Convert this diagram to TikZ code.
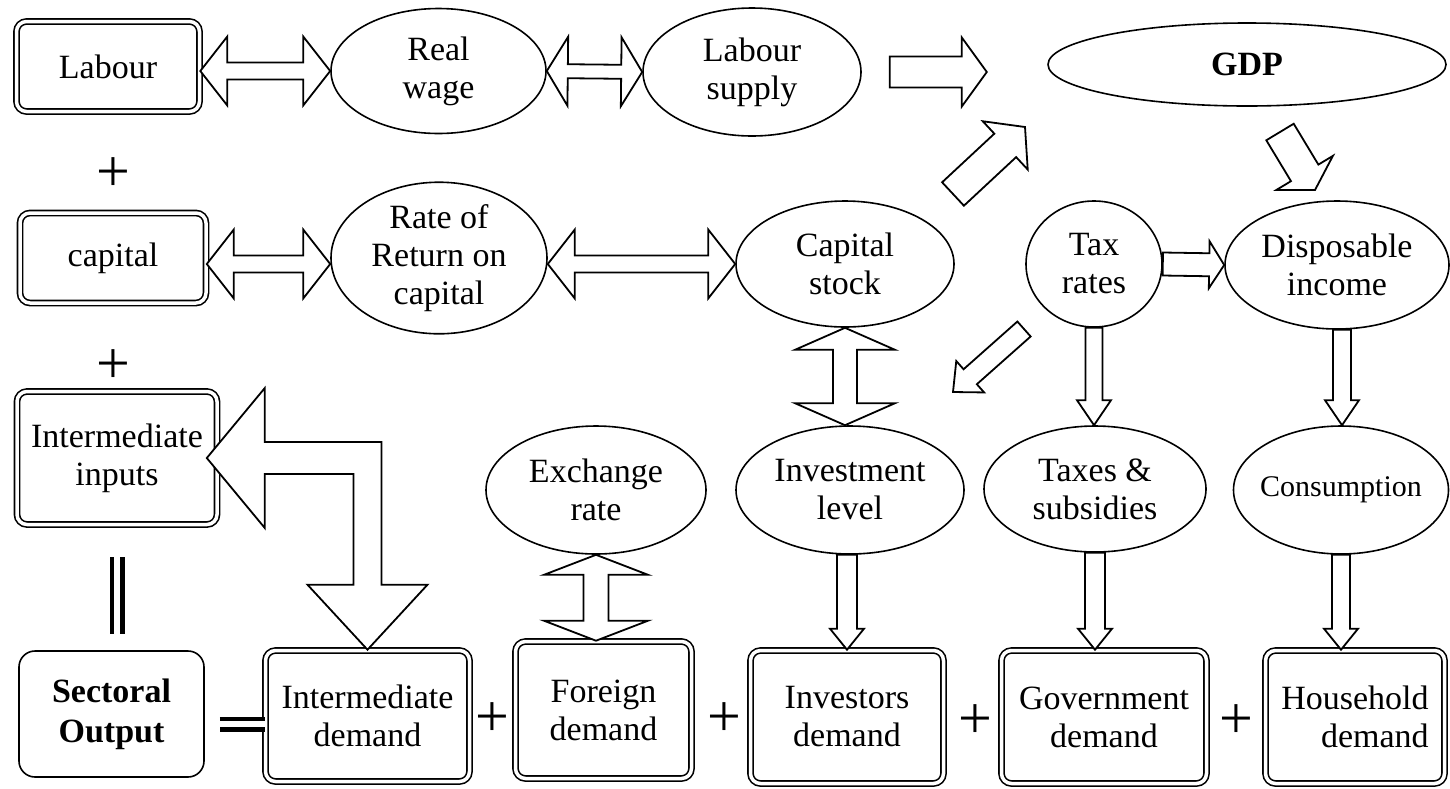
\documentclass[tikz,border=0pt]{standalone}
\usepackage{fontspec}
\setmainfont{Liberation Serif}
\usetikzlibrary{calc, shapes.geometric}

% block arrow: from, to, shaft half width, head half width, head length
\newcommand{\onearrow}[5]{%
  \path ($(#2)!#5!(#1)$) coordinate (hb);
  \draw[blockarrow] ($(#1)!#3!90:(#2)$) -- ($(hb)!#3!90:(#2)$) -- ($(hb)!#4!90:(#2)$)
    -- (#2) -- ($(hb)!#4!-90:(#2)$) -- ($(hb)!#3!-90:(#2)$) -- ($(#1)!#3!-90:(#2)$) -- cycle;
}
% block arrow with two heads
\newcommand{\twoarrow}[5]{%
  \path ($(#1)!#5!(#2)$) coordinate (ha) ($(#2)!#5!(#1)$) coordinate (hb);
  \draw[blockarrow] (#1) -- ($(ha)!#4!90:(#2)$) -- ($(ha)!#3!90:(#2)$) -- ($(hb)!#3!90:(#2)$)
    -- ($(hb)!#4!90:(#2)$) -- (#2) -- ($(hb)!#4!-90:(#2)$) -- ($(hb)!#3!-90:(#2)$)
    -- ($(ha)!#3!-90:(#2)$) -- ($(ha)!#4!-90:(#2)$) -- cycle;
}

\begin{document}
\begin{tikzpicture}[x=1pt, y=-1pt,
    box/.style={draw, double, double distance=3.5pt, line width=1.6pt, rounded corners=10pt,
      align=center, inner sep=0pt, font=\fontsize{34}{38}\selectfont},
    outbox/.style={draw, line width=1.6pt, rounded corners=16pt, align=center, inner sep=0pt,
      font=\fontsize{34}{40}\selectfont\bfseries},
    bubble/.style={ellipse, draw, line width=1.6pt, align=center, inner sep=0pt,
      font=\fontsize{34}{38}\selectfont},
    blockarrow/.style={draw, fill=white, line width=1.8pt},
    eqline/.style={double, double distance=6pt, line width=4.5pt},
    plus/.style={inner sep=0pt, font=\fontsize{60}{60}\selectfont}]
  \useasboundingbox (0,0) rectangle (1450,788);

  % factors
  \node[box, minimum width=183pt, minimum height=90pt] (lab) at (108,66.5) {Labour};
  \node[box, minimum width=186pt, minimum height=90pt] (cap) at (113,258) {capital};
  \node[box, minimum width=200pt, minimum height=133pt] (inp) at (117,458) {Intermediate\\inputs};
  \node[outbox, minimum width=185pt, minimum height=126pt] (out) at (111.5,714) {Sectoral\\Output};

  % demand boxes
  \node[box, minimum width=204pt, minimum height=131pt] (idem) at (367.5,716) {Intermediate\\demand};
  \node[box, minimum width=176pt, minimum height=137pt] (fdem) at (603.5,710) {Foreign\\demand};
  \node[box, minimum width=193pt, minimum height=133pt] (invd) at (847,717) {Investors\\demand};
  \node[box, minimum width=205pt, minimum height=133pt] (gdem) at (1104,717) {Government\\demand};
  \node[box, minimum width=179pt, minimum height=133pt, align=right] (hdem) at (1355,717) {Household\\demand};

  % ellipses
  \node[bubble, minimum width=215pt, minimum height=125pt] (rw) at (438.5,71) {Real\\wage};
  \node[bubble, minimum width=218pt, minimum height=128pt] (ls) at (752,72) {Labour\\supply};
  \node[bubble, minimum width=398pt, minimum height=83pt, font=\fontsize{34}{38}\selectfont\bfseries] (gdp) at (1247,64.5) {GDP};
  \node[bubble, minimum width=216pt, minimum height=151pt] (ror) at (439,258) {Rate of\\Return on\\capital};
  \node[bubble, minimum width=218pt, minimum height=126pt] (cs) at (845,264) {Capital\\stock};
  \node[bubble, minimum width=136pt, minimum height=126pt] (tax) at (1094,264) {Tax\\rates};
  \node[bubble, minimum width=224pt, minimum height=128pt] (di) at (1337,265) {Disposable\\income};
  \node[bubble, minimum width=220pt, minimum height=128pt] (er) at (596,490) {Exchange\\rate};
  \node[bubble, minimum width=228pt, minimum height=128pt] (il) at (850,490) {Investment\\level};
  \node[bubble, minimum width=222pt, minimum height=126pt] (ts) at (1095,489) {Taxes \&\\subsidies};
  \node[bubble, minimum width=215pt, minimum height=128pt, inner xsep=-10pt,
    font=\fontsize{30}{34}\selectfont] (con) at (1341,490) {Consumption};

  % plus signs
  \node[plus] (p1) at (113,175) {+};
  \node[plus] (p2) at (113,367) {+};
  \node[plus] (p3) at (492,720) {+};
  \node[plus] (p4) at (724,720) {+};
  \node[plus] (p5) at (975,722) {+};
  \node[plus] (p6) at (1236,722) {+};

  % equal signs
  \draw[eqline, shorten <=32pt, shorten >=16pt] (inp.south) -- (inp.south |- out.north);
  \coordinate (e1) at ([yshift=-10pt]out.east);
  \draw[eqline, shorten <=15pt] (e1) -- (e1 -| idem.west);

  % top row arrows
  \coordinate (lw) at (lab.east |- rw.west);
  \twoarrow{lw}{rw.west}{8.5pt}{34.5pt}{27pt}
  \twoarrow{rw.east}{ls.west}{7pt}{34.5pt}{21pt}
  \coordinate (g1) at ([xshift=28pt]ls.east);
  \coordinate (g2) at ([xshift=125pt]ls.east);
  \onearrow{g1}{g2}{15.5pt}{34.5pt}{25pt}

  % middle arrows
  \coordinate (rl) at (cap.east |- cs.west);
  \coordinate (rr) at (ror.west |- cs.west);
  \twoarrow{rl}{rr}{8.5pt}{34.5pt}{27pt}
  \coordinate (rs) at (ror.east |- cs.west);
  \twoarrow{rs}{cs.west}{8.5pt}{34.5pt}{27pt}
  \coordinate (k1) at (953,194);
  \coordinate (k2) at (1025,127);
  \onearrow{k1}{k2}{16pt}{33pt}{27pt}
  \coordinate (d1) at (1280,132);
  \coordinate (d2) at (1315,190);
  \onearrow{d1}{d2}{16pt}{33pt}{20pt}
  \onearrow{tax.east}{di.west}{11.5pt}{23.5pt}{15pt}
  \coordinate (q1) at (1024,329);
  \coordinate (q2) at (953,392);
  \onearrow{q1}{q2}{10pt}{21pt}{23pt}

  % vertical arrows
  \coordinate (cb) at (cs.south |- il.north);
  \twoarrow{cs.south}{cb}{12pt}{50pt}{22pt}
  \coordinate (tb) at (tax.south |- ts.north);
  \onearrow{tax.south}{tb}{8.5pt}{17pt}{25pt}
  \coordinate (da) at ([xshift=5pt]di.south);
  \coordinate (db) at (da |- con.north);
  \onearrow{da}{db}{9pt}{17pt}{25pt}
  \coordinate (eb) at (er.south |- fdem.north);
  \twoarrow{er.south}{eb}{12.5pt}{52pt}{20pt}
  \coordinate (ia) at (invd.north |- il.south);
  \onearrow{ia}{invd.north}{10pt}{17pt}{21pt}
  \coordinate (sb) at (ts.south |- gdem.north);
  \onearrow{ts.south}{sb}{10pt}{17pt}{21pt}
  \coordinate (nb) at (con.south |- hdem.north);
  \onearrow{con.south}{nb}{9pt}{17pt}{21pt}

  % bent arrow between intermediate demand and inputs
  \coordinate (bi) at ([xshift=-11pt]inp.east);
  \coordinate (bd) at (idem.north);
  \draw[blockarrow] let \p1=(bi), \p2=(bd) in
    (\p1) -- (\x1+58pt,\y1+70pt) -- (\x1+58pt,\y1+16pt) -- (\x2+14pt,\y1+16pt)
    -- (\x2+14pt,\y2+65pt) -- (\x2+60pt,\y2+65pt) -- (\p2) -- (\x2-60pt,\y2+65pt)
    -- (\x2-14pt,\y2+65pt) -- (\x2-14pt,\y1-16pt) -- (\x1+58pt,\y1-16pt)
    -- (\x1+58pt,\y1-70pt) -- cycle;
\end{tikzpicture}
\end{document}
